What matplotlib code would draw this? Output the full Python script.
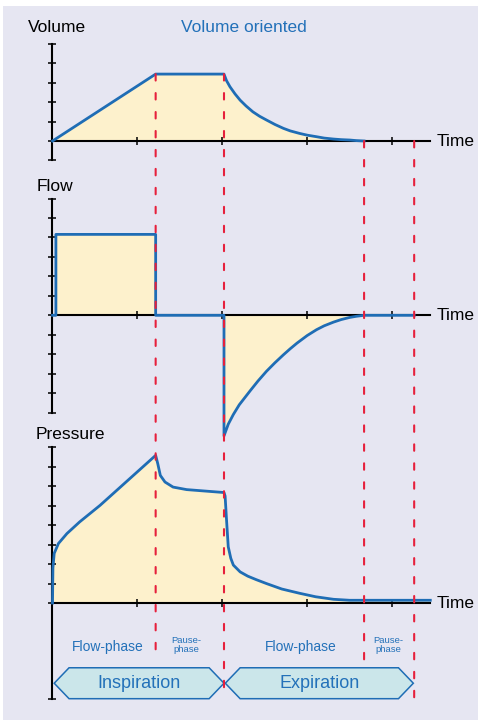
import matplotlib
matplotlib.use("Agg")
import matplotlib.pyplot as plt
from matplotlib.patches import Polygon, Rectangle, ConnectionPatch

plt.rcParams['font.family'] = ['Liberation Sans', 'DejaVu Sans']

# ---------------- data (time and values in axis-tick units) ----------------
vol_t = [0, 1.215, 2.02, 2.05, 2.09, 2.15, 2.21, 2.28, 2.36, 2.44, 2.52, 2.62,
         2.72, 2.8, 2.91, 3.0, 3.11, 3.2, 3.31, 3.4, 3.50, 3.58, 3.67]
vol_v = [0, 3.44, 3.44, 3.1, 2.79, 2.42, 2.10, 1.8, 1.50, 1.27, 1.08, 0.85,
         0.65, 0.52, 0.39, 0.3, 0.22, 0.15, 0.10, 0.07, 0.05, 0.02, 0.0]

flow_t = [0, 0.04, 0.04, 1.215, 1.215, 2.02, 2.02, 2.07, 2.13, 2.2, 2.33, 2.42,
          2.52, 2.62, 2.72, 2.8, 2.88, 3.0, 3.11, 3.2, 3.31, 3.4, 3.50, 3.58,
          3.67, 4.26]
flow_v = [0, 0, 4.16, 4.16, 0, 0, -6.2, -5.6, -5.1, -4.6, -3.87, -3.38,
          -2.88, -2.44, -2.03, -1.72, -1.43, -1.04, -0.74, -0.54, -0.35, -0.22,
          -0.11, -0.05, 0, 0]

pres_t = [0, 0.005, 0.02, 0.07, 0.17, 0.32, 0.56, 1.215, 1.24, 1.27, 1.325,
          1.42, 1.58, 2.02, 2.033, 2.05, 2.07, 2.1, 2.13, 2.21, 2.3, 2.4, 2.52,
          2.7, 2.91, 3.1, 3.31, 3.50, 4.45]
pres_v = [0, 1.8, 2.55, 3.06, 3.57, 4.17, 5.02, 7.59, 7.16, 6.56, 6.22,
          5.96, 5.83, 5.68, 5.5, 4.26, 2.89, 2.3, 1.95, 1.6, 1.38, 1.2, 1.0,
          0.72, 0.5, 0.32, 0.19, 0.14, 0.14]

phase_t = [1.215, 2.02, 3.67, 4.26]          # phase boundaries
phase_start_vol = [3.44, 3.44, 0.0, 0.0]     # where dashed lines start (volume)
phase_labels = ["Flow-phase", "Pause-\nphase", "Flow-phase", "Pause-\nphase"]
phase_label_t = [0.65, 1.58, 2.92, 3.96]
phase_names = ["Inspiration", "Expiration"]
phase_name_spans = [(0.02, 2.02), (2.035, 4.25)]

panel_titles = ["Volume", "Flow", "Pressure"]

# ---------------- styling ----------------
BG = '#e6e6f2'
BLUE = '#1f6db5'
TBLUE = '#2371b9'
FILL = '#fdf1cc'
RED = '#e6203c'
BOXF = '#cbe6ea'

W, H = 478, 720
XU = 84.9          # px per time unit
YU = 19.45         # px per value unit
X0 = 52.5          # px of time origin

fig = plt.figure(figsize=(W / 100, H / 100), dpi=100, facecolor='white')
fig.add_artist(Rectangle((3 / W, 0), 1, 1 - 6 / H, transform=fig.transFigure,
                         facecolor=BG, edgecolor='none', zorder=-10))


def make_ax(zero_px, ymin, ymax, bmin, bmax, yticks):
    ax = fig.add_axes([0, 0, 1, 1])
    top_px = zero_px - ymax * YU
    bot_px = zero_px - ymin * YU
    ax.set_position([0, 1 - bot_px / H, 1, (bot_px - top_px) / H])
    ax.set_ylim(ymin, ymax)
    ax.set_xlim(-X0 / XU, (W - X0) / XU)
    ax.set_facecolor('none')
    for s in ['top', 'right']:
        ax.spines[s].set_visible(False)
    ax.spines['left'].set_position(('data', 0))
    ax.spines['bottom'].set_position(('data', 0))
    ax.spines['left'].set_bounds(bmin, bmax)
    ax.spines['bottom'].set_bounds(0, 4.45)
    for s in ['left', 'bottom']:
        ax.spines[s].set_linewidth(1.5)
        ax.spines[s].set_color('black')
    ax.set_xticks([1, 2, 3, 4])
    ax.set_yticks(yticks)
    ax.tick_params(direction='inout', length=5.5, width=1.1, color='black',
                   labelleft=False, labelbottom=False)
    ax.text(4.53, 0, "Time", fontsize=12.5, ha='left', va='center')
    return ax


ax_v = make_ax(141, -1.5, 5.8, -1, 5, list(range(-1, 6)))
ax_f = make_ax(315.3, -6.6, 6.4, -5, 6, list(range(-5, 7)))
ax_p = make_ax(603, -5.3, 8.3, -4.95, 8, list(range(0, 9)) + [-4.95])

for ax, t, v in [(ax_v, vol_t, vol_v), (ax_f, flow_t, flow_v), (ax_p, pres_t, pres_v)]:
    ax.fill_between(t, v, 0, color=FILL, linewidth=0, zorder=1)
    ax.plot(t, v, color=BLUE, lw=2.0, solid_joinstyle='round', zorder=3, clip_on=False)

# panel titles
ax_v.text(-0.29, 5.82, panel_titles[0], fontsize=12.5, ha='left', va='center')
ax_v.text(2.25, 5.82, "Volume oriented", fontsize=12.5, ha='center', va='center', color=TBLUE)
ax_f.text(-0.19, 6.61, panel_titles[1], fontsize=12.5, ha='left', va='center')
ax_p.text(-0.2, 8.67, panel_titles[2], fontsize=12.5, ha='left', va='center')

# phase labels
for lab, t in zip(phase_labels, phase_label_t):
    if lab.startswith("Pause"):
        ax_p.text(t, -2.15, lab, fontsize=6.8, ha='center', va='center', color=TBLUE,
                  linespacing=0.95)
    else:
        ax_p.text(t, -2.28, lab, fontsize=10, ha='center', va='center', color=TBLUE)

# phase boxes (arrow-like hexagons)
ytop, ybot = -3.33, -4.92
ymid = (ytop + ybot) / 2
inset = 0.175
for name, (a, b) in zip(phase_names, phase_name_spans):
    pts = [(a, ymid), (a + inset, ytop), (b - inset, ytop), (b, ymid),
           (b - inset, ybot), (a + inset, ybot)]
    ax_p.add_patch(Polygon(pts, closed=True, facecolor=BOXF, edgecolor=BLUE,
                           lw=1.1, clip_on=False, zorder=4))
    ax_p.text((a + b) / 2, ymid, name, fontsize=13, ha='center', va='center',
              color=TBLUE, zorder=5)

# dashed red boundary lines spanning all panels
ends = [-2.9, -4.9, -2.9, -4.95]
for t, ys, ye in zip(phase_t, phase_start_vol, ends):
    con = ConnectionPatch(xyA=(t, ys), coordsA=ax_v.transData,
                          xyB=(t, ye), coordsB=ax_p.transData,
                          arrowstyle='-', color=RED, lw=1.5,
                          linestyle=(0, (3.1, 6.0)), shrinkA=0, shrinkB=0,
                          zorder=6)
    fig.add_artist(con)

fig.savefig("out.png", dpi=100, facecolor=fig.get_facecolor())
